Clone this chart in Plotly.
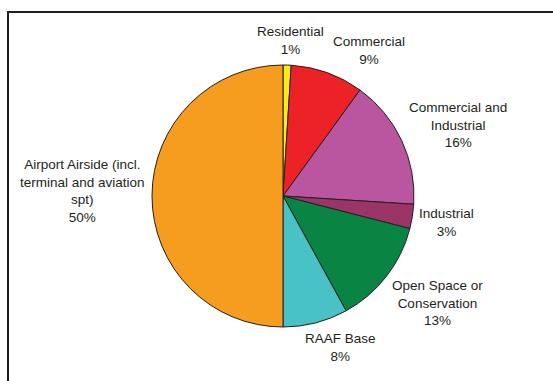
import plotly.graph_objects as go

# Land use shares, clockwise from 12 o'clock
labels = [
    "Residential",
    "Commercial",
    "Commercial and Industrial",
    "Industrial",
    "Open Space or Conservation",
    "RAAF Base",
    "Airport Airside (incl. terminal and aviation spt)",
]
label_lines = [
    ["Residential"],
    ["Commercial"],
    ["Commercial and", "Industrial"],
    ["Industrial"],
    ["Open Space or", "Conservation"],
    ["RAAF Base"],
    ["Airport Airside (incl.", "terminal and aviation", "spt)"],
]
shares = [1, 9, 16, 3, 13, 8, 50]
colors = ["#f7ec14", "#ec2227", "#b9569f", "#9b3467", "#0a8443", "#49c2c6", "#f69d1f"]

W, H = 553, 381
cx, cy, r = 283, 196, 131

# Label block centres in pixels
label_pos = [(290, 41), (369, 50), (458, 125), (447, 222), (437, 303), (340, 347), (82, 191)]

fig = go.Figure(
    go.Pie(
        labels=labels,
        values=shares,
        sort=False,
        direction="clockwise",
        rotation=0,
        marker=dict(colors=colors, line=dict(color="#231f20", width=1)),
        textinfo="none",
        hoverinfo="label+percent",
        showlegend=False,
        domain=dict(
            x=[(cx - r) / W, (cx + r) / W],
            y=[(H - cy - r) / H, (H - cy + r) / H],
        ),
    )
)

for lines, v, (px, py) in zip(label_lines, shares, label_pos):
    fig.add_annotation(
        x=px / W,
        y=1 - py / H,
        xref="paper",
        yref="paper",
        text="<br>".join(lines + [f"{v}%"]),
        showarrow=False,
        xanchor="center",
        yanchor="middle",
        align="center",
        font=dict(family="Liberation Sans, Arial, sans-serif", size=13.5, color="#231f20"),
    )

# Chart frame (top and left edges visible)
frame = dict(color="#231f20", width=2)
fig.add_shape(type="line", xref="paper", yref="paper", x0=7 / W, x1=1.0, y0=1 - 12 / H, y1=1 - 12 / H, line=frame)
fig.add_shape(type="line", xref="paper", yref="paper", x0=8 / W, x1=8 / W, y0=1 - 11 / H, y1=0, line=frame)

fig.update_layout(
    width=W,
    height=H,
    margin=dict(l=0, r=0, t=0, b=0),
    paper_bgcolor="white",
    plot_bgcolor="white",
)

fig.write_html("out.html")
